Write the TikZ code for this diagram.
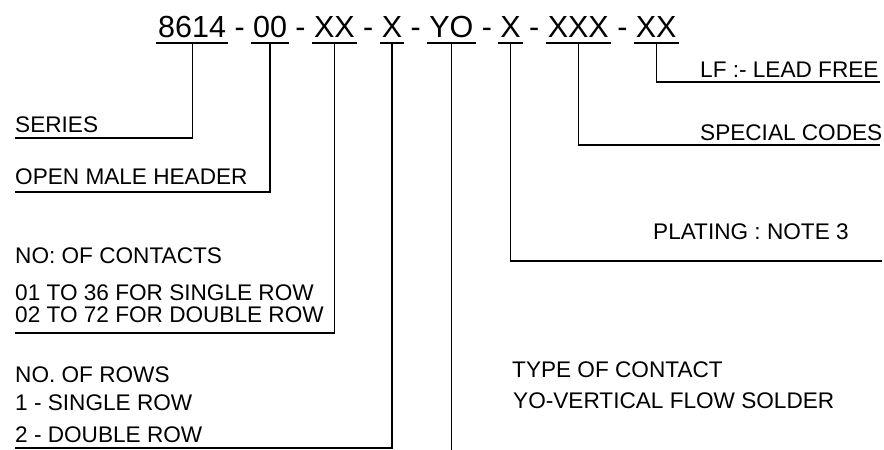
\documentclass[tikz,border=0pt]{standalone}
\usepackage{fontspec}
\setmainfont{Liberation Sans}
\usetikzlibrary{calc}
\tikzset{
  lbl/.style={anchor=base west, inner sep=0pt, font=\fontsize{22.6}{27}\selectfont},
  code/.style={anchor=base west, inner sep=0pt, font=\fontsize{30.5}{36}\selectfont},
  conn/.style={line width=1.2pt, line cap=butt, line join=miter},
}
\newcommand{\dashsep}{\mbox{}\hspace*{0.264em}-\hspace*{0.264em}\mbox{}}
\begin{document}
\begin{tikzpicture}[x=1pt,y=-1pt]
\useasboundingbox (0,0) rectangle (884,450);
% code string
\node[code] (g1) at (158,37) {8614};
\node[code] (d1) at (g1.base east) {\dashsep};
\node[code] (g2) at (d1.base east) {00};
\node[code] (d2) at (g2.base east) {\dashsep};
\node[code] (g3) at (d2.base east) {XX};
\node[code] (d3) at (g3.base east) {\dashsep};
\node[code] (g4) at (d3.base east) {X};
\node[code] (d4) at (g4.base east) {\dashsep};
\node[code] (g5) at (d4.base east) {YO};
\node[code] (d5) at (g5.base east) {\dashsep};
\node[code] (g6) at (d5.base east) {X};
\node[code] (d6) at (g6.base east) {\dashsep};
\node[code] (g7) at (d6.base east) {XXX};
\node[code] (d7) at (g7.base east) {\dashsep};
\node[code] (g8) at (d7.base east) {XX};
% underlines
\foreach \g in {g1,g2,g3,g4,g5,g6,g7,g8}{
  \draw[conn] ($(\g.base west)+(-2,6)$) -- ($(\g.base east)+(2,6)$);
  \coordinate (t\g) at ($(\g.base)+(0,6)$);
}
% labels
\node[lbl] (series) at (15,132) {SERIES};
\node[lbl] (omh) at (15,184) {OPEN MALE HEADER};
\node[lbl] (noc) at (15,263) {NO: OF CONTACTS};
\node[lbl] (c1) at (15,300) {01 TO 36 FOR SINGLE ROW};
\node[lbl] (c2) at (15,322) {02 TO 72 FOR DOUBLE ROW};
\node[lbl] (nor) at (15,382) {NO. OF ROWS};
\node[lbl] (r1) at (15,410) {1 - SINGLE ROW};
\node[lbl] (r2) at (15,442) {2 - DOUBLE ROW};
\node[lbl] (toc) at (512,377) {TYPE OF CONTACT};
\node[lbl] (yov) at (513,408) {YO-VERTICAL FLOW SOLDER};
\node[lbl] (plat) at (653,239) {PLATING : NOTE 3};
\node[lbl] (spc) at (700,140) {SPECIAL CODES};
\node[lbl] (lf) at (700,77) {LF :- LEAD FREE};
% connector ends
\coordinate (e1) at (15,138);
\coordinate (e2) at (15,192);
\coordinate (e3) at (15,333);
\coordinate (e4) at (15,448);
\coordinate (e5) at (0,450);
\coordinate (e6) at (882,261);
\coordinate (e7) at (880,145);
\coordinate (e8) at (880,82);
% connectors
\draw[conn] (tg1) |- (e1);
\draw[conn] (tg2) |- (e2);
\draw[conn] (tg3) |- (e3);
\draw[conn] (tg4) |- (e4);
\draw[conn] (tg5) -- (tg5 |- e5);
\draw[conn] (tg6) |- (e6);
\draw[conn] (tg7) |- (e7);
\draw[conn] (tg8) |- (e8);
\end{tikzpicture}
\end{document}
